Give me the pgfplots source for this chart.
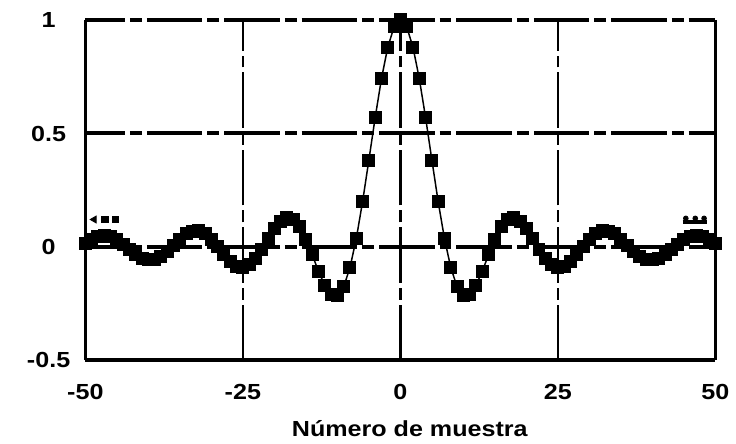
\documentclass[border=0pt]{standalone}
\usepackage{fontspec}
\setmainfont{Liberation Sans}
\newfontfamily\labfont{Liberation Sans}[FakeStretch=1.15]
\usepackage{pgfplots}
\pgfplotsset{compat=1.18}
\usetikzlibrary{calc}

\begin{document}
\begin{tikzpicture}
\begin{axis}[
    scale only axis,
    width=317.5pt, height=171.5pt,
    xmin=-50, xmax=50, ymin=-0.5, ymax=1,
    xtick={-50,-25,0,25,50}, xticklabels={-50,-25,0,25,50},
    ytick={-0.5,0,0.5,1}, yticklabels={-0.5,0,0.5,1},
    major tick length=0pt,
    ticklabel style={font=\labfont\fontsize{11}{13}\selectfont\bfseries},
    xticklabel style={anchor=base, yshift=-20pt},
    yticklabel style={anchor=base, xshift=-18.5pt, yshift=-3.9pt},
    axis line style={draw=none},
    grid=major,
    x grid style={black, line width=1.2pt, dash pattern=on 28pt off 2.5pt on 6pt off 2.5pt},
    y grid style={black, line width=2.2pt, dash pattern=on 28pt off 2.5pt on 6pt off 2.5pt, dash phase=8pt},
    xlabel={Número de muestra},
    xlabel style={font=\labfont\fontsize{11}{13}\selectfont\bfseries,
      at={(rel axis cs:0.5,0)}, anchor=base, yshift=-38.5pt, xshift=4.75pt},
]
% muestras de la respuesta
\addplot[black, line width=0.75pt, mark=square*, mark size=2.9pt] coordinates {
 (-50,0.0147) (-49,0.0324) (-48,0.0447) (-47,0.0490) (-46,0.0443) (-45,0.0310)
 (-44,0.0113) (-43,-0.0115) (-42,-0.0333) (-41,-0.0497) (-40,-0.0576) (-39,-0.0550)
 (-38,-0.0418) (-37,-0.0199) (-36,0.0069) (-35,0.0340) (-34,0.0562) (-33,0.0690)
 (-32,0.0695) (-31,0.0567) (-30,0.0323) (-29,0) (-28,-0.0346) (-27,-0.0651)
 (-26,-0.0855) (-25,-0.0911) (-24,-0.0796) (-23,-0.0517) (-22,-0.0113) (-21,0.0351)
 (-20,0.0794) (-19,0.1128) (-18,0.1280) (-17,0.1199) (-16,0.0873) (-15,0.0331)
 (-14,-0.0354) (-13,-0.1074) (-12,-0.1699) (-11,-0.2095) (-10,-0.2144) (-9,-0.1763)
 (-8,-0.0921) (-7,0.0356) (-6,0.1983) (-5,0.3820) (-4,0.5693) (-3,0.7412)
 (-2,0.8795) (-1,0.9690) (0,1)
 (1,0.9690) (2,0.8795) (3,0.7412) (4,0.5693) (5,0.3820) (6,0.1983) (7,0.0356)
 (8,-0.0921) (9,-0.1763) (10,-0.2144) (11,-0.2095) (12,-0.1699) (13,-0.1074)
 (14,-0.0354) (15,0.0331) (16,0.0873) (17,0.1199) (18,0.1280) (19,0.1128)
 (20,0.0794) (21,0.0351) (22,-0.0113) (23,-0.0517) (24,-0.0796) (25,-0.0911)
 (26,-0.0855) (27,-0.0651) (28,-0.0346) (29,0) (30,0.0323) (31,0.0567)
 (32,0.0695) (33,0.0690) (34,0.0562) (35,0.0340) (36,0.0069) (37,-0.0199)
 (38,-0.0418) (39,-0.0550) (40,-0.0576) (41,-0.0497) (42,-0.0333) (43,-0.0115)
 (44,0.0113) (45,0.0310) (46,0.0443) (47,0.0490) (48,0.0447) (49,0.0324)
 (50,0.0147)
};
% marcas sueltas en los extremos
\addplot[only marks, mark=triangle*, mark options={rotate=90}, mark size=2pt] coordinates {(-48.6,0.12)};
\addplot[only marks, mark=square*, mark size=1.6pt] coordinates {(-46.9,0.12) (-45.2,0.12)};
\addplot[black, line width=2pt] coordinates {(44.8,0.11) (48.7,0.11)};
\addplot[only marks, mark=*, mark size=1.2pt] coordinates {(45.3,0.125) (46.8,0.125) (48.2,0.125)};
\coordinate (bl) at (rel axis cs:0,0);
\coordinate (br) at (rel axis cs:1,0);
\coordinate (tl) at (rel axis cs:0,1);
\coordinate (tr) at (rel axis cs:1,1);
\end{axis}
\draw[line width=1.5pt] (tl) -- (bl);
\draw[line width=2pt] (bl) -- (br);
\draw[line width=1.5pt] (br) -- (tr);
\path ($(bl)+(-43pt,-42pt)$) rectangle ($(tr)+(7.5pt,10pt)$);
\end{tikzpicture}
\end{document}
